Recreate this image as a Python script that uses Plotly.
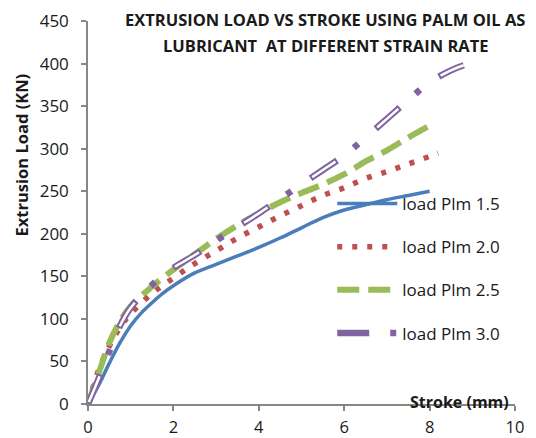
import plotly.graph_objects as go

# Stroke (mm) and extrusion load (kN) per series
x_15 = [0, 0.25, 0.5, 0.75, 1, 1.25, 1.5, 1.75, 2, 2.5, 3, 3.5, 4, 4.5, 5, 5.5, 6, 6.5, 7, 7.5, 8]
y_15 = [0, 22, 48, 72, 92, 107, 119, 130, 139, 154, 164, 174, 184, 195, 207, 219, 228, 234, 240, 245, 250]

x_20 = [0, 0.25, 0.5, 0.75, 1, 1.5, 2, 2.5, 3, 3.5, 4, 4.5, 5, 5.5, 6, 6.5, 7, 7.5, 8, 8.2]
y_20 = [0, 40, 68, 90, 106, 130, 148, 165, 180, 195, 208, 221, 233, 245, 254, 265, 273, 282, 291, 295]

x_25 = [0, 0.25, 0.5, 0.75, 1, 1.5, 2, 2.5, 3, 3.5, 4, 4.5, 5, 5.5, 6, 6.5, 7, 7.5, 8]
y_25 = [0, 36, 72, 97, 115, 138, 158, 176, 194, 210, 224, 237, 248, 258, 270, 285, 298, 313, 327]

x_30 = [0, 0.25, 0.5, 0.75, 1, 1.5, 2, 2.5, 3, 3.5, 4, 4.5, 5, 5.5, 6, 6.5, 7, 7.5, 8, 8.5, 8.8]
y_30 = [0, 30, 62, 92, 113, 140, 160, 175, 192, 208, 224, 241, 258, 275, 292, 313, 335, 357, 378, 392, 398]

names = ["load Plm 1.5", "load Plm 2.0", "load Plm 2.5", "load Plm 3.0"]
x_ticks = [0, 2, 4, 6, 8, 10]
y_ticks = [0, 50, 100, 150, 200, 250, 300, 350, 400, 450]

title_lines = ["EXTRUSION LOAD VS STROKE USING PALM OIL AS",
               "LUBRICANT  AT DIFFERENT STRAIN RATE"]

BLUE, RED, GREEN, PURPLE = "#4A7EBB", "#C0504D", "#9BBB59", "#8064A2"
FONT = "Open Sans"
TXT = "#1a1a1a"

fig = go.Figure()
fig.add_trace(go.Scatter(x=x_15, y=y_15, name=names[0], mode="lines", legendgroup="a",
                         line=dict(color=BLUE, width=3.5, shape="spline")))
fig.add_trace(go.Scatter(x=x_20, y=y_20, name=names[1], mode="lines", legendgroup="b",
                         line=dict(color=RED, width=5.5, dash="5px,10px", shape="spline")))
fig.add_trace(go.Scatter(x=x_25, y=y_25, name=names[2], mode="lines", legendgroup="c",
                         line=dict(color=GREEN, width=6, dash="22px,9px", shape="spline")))
fig.add_trace(go.Scatter(x=x_30, y=y_30, name=names[3], mode="lines", legendgroup="d",
                         line=dict(color=PURPLE, width=6.5, dash="32px,21px,6px,23px", shape="spline")))
fig.add_trace(go.Scatter(x=x_30, y=y_30, mode="lines", showlegend=False, legendgroup="d",
                         hoverinfo="skip",
                         line=dict(color="white", width=2.5, dash="0px,2px,28px,52px", shape="spline")))

axis_common = dict(showline=True, linecolor="#868686", linewidth=1.5, ticks="outside",
                   ticklen=5, tickcolor="#868686", tickwidth=1.5, showgrid=False, zeroline=False,
                   automargin=False)
fig.update_xaxes(range=[0, 10], tickvals=x_ticks, ticklabelstandoff=2,
                 tickfont=dict(family=FONT, size=16.5, color=TXT), **axis_common)
fig.update_yaxes(range=[0, 450], tickvals=y_ticks, ticklabelstandoff=9,
                 tickfont=dict(family=FONT, size=17, color=TXT), **axis_common)

# page has an 8px body margin, so the figure is 8px smaller than the window
fig.update_layout(
    width=528, height=430,
    margin=dict(l=80, r=21, t=13, b=34),
    plot_bgcolor="white", paper_bgcolor="white",
    font=dict(family=FONT, color=TXT),
    legend=dict(x=0.572, y=0.569, xanchor="left", yanchor="top", bgcolor="rgba(0,0,0,0)",
                font=dict(size=17, family=FONT, color=TXT), tracegroupgap=18, itemwidth=60),
    annotations=[
        dict(text="<b>%s</b>" % title_lines[0], x=0.556, y=1.005, xref="paper", yref="paper",
             xanchor="center", yanchor="middle", showarrow=False,
             font=dict(size=16.5, family=FONT, color=TXT)),
        dict(text="<b>%s</b>" % title_lines[1], x=0.556, y=0.937, xref="paper", yref="paper",
             xanchor="center", yanchor="middle", showarrow=False,
             font=dict(size=16.5, family=FONT, color=TXT)),
        dict(text="<b>Extrusion Load (KN)</b>", textangle=-90, x=-0.156, y=0.65,
             xref="paper", yref="paper", xanchor="center", yanchor="middle", showarrow=False,
             font=dict(size=16.5, family=FONT, color=TXT)),
        dict(text="<b>Stroke (mm)</b>", x=0.99, y=0.004, xref="paper", yref="paper",
             xanchor="right", yanchor="middle", showarrow=False,
             font=dict(size=16, family=FONT, color=TXT)),
    ],
)

fig.write_html("out.html")
